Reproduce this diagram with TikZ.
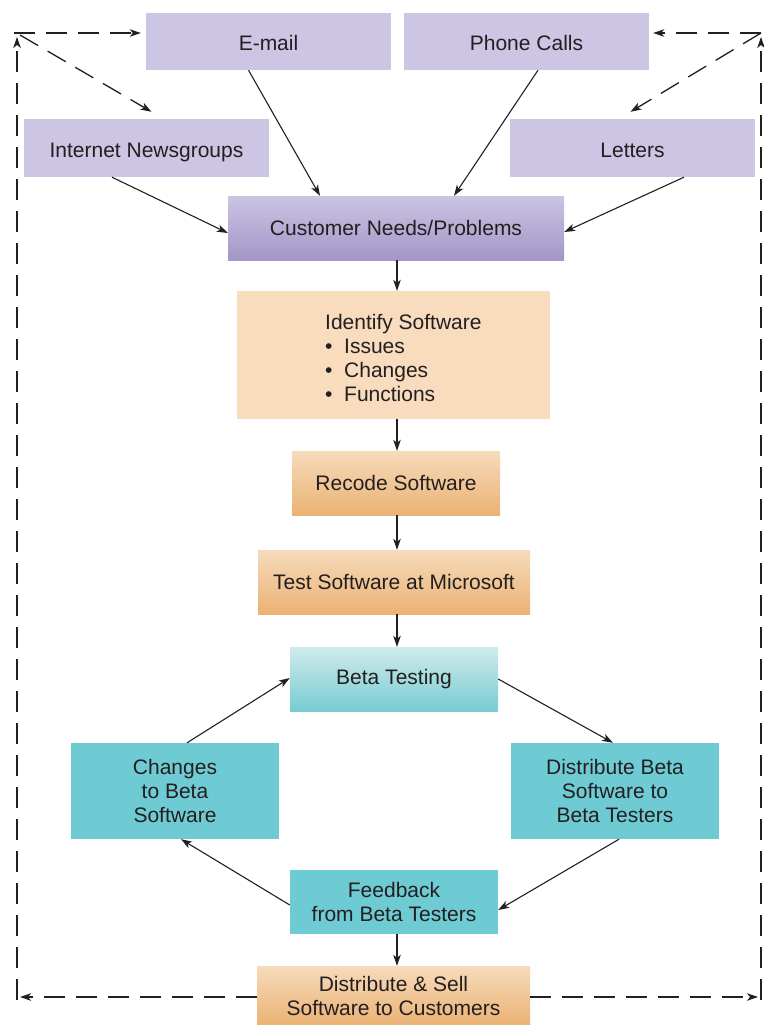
\documentclass[tikz,border=0pt]{standalone}
\usepackage{fontspec}
\setmainfont{Liberation Sans}
\usetikzlibrary{arrows.meta,calc}

\definecolor{ink}{HTML}{231F20}
\definecolor{lavender}{HTML}{CCC5E3}
\definecolor{lavtop}{HTML}{CBC4E2}
\definecolor{lavbot}{HTML}{A496C8}
\definecolor{peach}{HTML}{F8DCBD}
\definecolor{peachtop}{HTML}{F6DBBB}
\definecolor{orangebot}{HTML}{EBB274}
\definecolor{teal}{HTML}{6FCBD3}
\definecolor{cyantop}{HTML}{D0EBEC}
\definecolor{cyanbot}{HTML}{77CCD2}

\tikzset{
  box/.style={rectangle, inner sep=0pt, text=ink, align=center,
              font=\fontsize{21}{24}\selectfont},
  source/.style={box, fill=lavender, minimum width=245pt,
                 text height=18pt, text depth=0pt},
  needs/.style={box, top color=lavtop, bottom color=lavbot},
  plain/.style={box, fill=peach},
  work/.style={box, top color=peachtop, bottom color=orangebot},
  betatop/.style={box, top color=cyantop, bottom color=cyanbot},
  beta/.style={box, fill=teal},
  link/.style={draw=ink, line width=1.1pt,
               -{Stealth[length=11pt,width=7.5pt,inset=3pt]}},
  loopline/.style={link, line width=1.3pt, dash pattern=on 21pt off 11pt},
}

\begin{document}
\begin{tikzpicture}[x=1pt,y=-1pt]
\useasboundingbox (0,0) rectangle (763,1025);

% input channels
\node[source, minimum height=57pt] (email)   at (268.5,41.5) {E-mail};
\node[source, minimum height=57pt] (phone)   at (526.5,41.5) {Phone Calls};
\node[source, minimum height=58pt] (news)    at (146.5,148)  {Internet Newsgroups};
\node[source, minimum height=58pt] (letters) at (632.5,148)  {Letters};

% main flow
\node[needs, minimum width=336pt, minimum height=64pt] (cust) at (396,228) {Customer Needs/Problems};
\node[plain, minimum width=313pt, minimum height=128pt] (ident) at (393.5,355) {};
\node[box, anchor=west, align=left] (identtext) at (325,358)
  {Identify Software\\
   \makebox[19pt][l]{\textbullet}Issues\\
   \makebox[19pt][l]{\textbullet}Changes\\
   \makebox[19pt][l]{\textbullet}Functions};
\node[work, minimum width=208pt, minimum height=64pt] (recode) at (396,483) {Recode Software};
\node[work, minimum width=272pt, minimum height=64pt] (test) at (394,582) {Test Software at Microsoft};

% beta cycle
\node[betatop, minimum width=208pt, minimum height=64pt] (betatest) at (394,679) {Beta Testing};
\node[beta, minimum width=208pt, minimum height=96pt] (changes) at (175,791) {Changes\\to Beta\\Software};
\node[beta, minimum width=208pt, minimum height=96pt] (distb) at (615,791) {Distribute Beta\\Software to\\Beta Testers};
\node[beta, minimum width=208pt, minimum height=64pt] (feedback) at (394,902) {Feedback\\from Beta Testers};

% release
\node[work, minimum width=273pt, minimum height=59pt] (sell) at (393.5,995.5) {Distribute \& Sell\\Software to Customers};

% channels into customer needs
\draw[link] ($(email.south)+(-20,0)$) -- ($(cust.north)+(-76,0)$);
\draw[link] ($(phone.south)+(11.5,0)$) -- ($(cust.north)+(58,0)$);
\draw[link] ($(news.south)+(-34.5,0)$) -- ($(cust.west)+(0,5)$);
\draw[link] ($(letters.south)+(51.5,0)$) -- ($(cust.east)+(0,4)$);

% vertical chain
\draw[link] ($(cust.south)+(1,0)$) -- ($(cust.south |- ident.north)+(1,0)$);
\draw[link] ($(ident.south -| cust.south)+(1,0)$) -- ($(cust.south |- recode.north)+(1,0)$);
\draw[link] ($(recode.south)+(1,0)$) -- ($(recode.south |- test.north)+(1,0)$);
\draw[link] ($(test.south)+(3,0)$) -- ($(test.south |- betatest.north)+(3,0)$);

% beta loop
\draw[link] (betatest.east) -- ($(distb.north)+(-2,0)$);
\draw[link] ($(distb.south)+(4,0)$) -- ($(feedback.east)+(0,8)$);
\draw[link] ($(feedback.west)+(0,3)$) -- ($(changes.south)+(6,0)$);
\draw[link] ($(changes.north)+(12,0)$) -- ($(betatest.west)+(0,-1)$);
\draw[link] ($(feedback.south)+(3,0)$) -- ($(feedback.south |- sell.north)+(3,0)$);

% customer feedback loop (dashed)
\coordinate (TL) at (17,33);
\coordinate (TR) at (761,33);
\coordinate (BL) at (17,1000);
\coordinate (BR) at (761,1000);

\draw[loopline] (sell.west |- 0,997) -- (20,997);
\draw[loopline] (sell.east |- 0,997) -- (758,997);
\draw[loopline] (BL) -- ($(TL)+(0,4)$);
\draw[loopline] (BR) -- ($(TR)+(0,4)$);
\draw[loopline] (14,33) -- ($(email.west |- TL)+(-5,0)$);
\draw[loopline] (20,35) -- ($(news.north)+(5,-7)$);
\draw[loopline] (TR) -- ($(phone.east |- TR)+(4,0)$);
\draw[loopline] (TR) -- ($(letters.north)+(-2,-7)$);
\end{tikzpicture}
\end{document}
